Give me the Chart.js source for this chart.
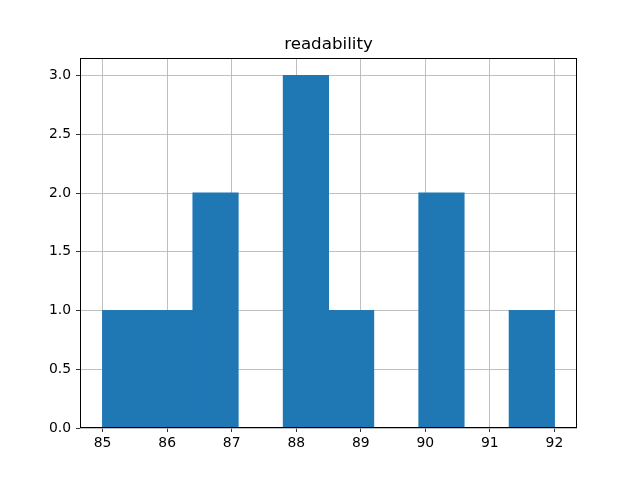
<!DOCTYPE html>
<html>
<head>
<meta charset="utf-8">
<script src="https://cdn.jsdelivr.net/npm/chart.js@4/dist/chart.umd.min.js"></script>
<style>
  html, body { margin: 0; padding: 0; background: #fff; }
  #wrap { width: 640px; height: 480px; }
</style>
</head>
<body>
<div id="wrap"><canvas id="hist" width="640" height="480"></canvas></div>
<script>
// histogram bins (10 bins from 85 to 92)
const binCenters = [85.35, 86.05, 86.75, 87.45, 88.15, 88.85, 89.55, 90.25, 90.95, 91.65];
const binCounts  = [1, 1, 2, 0, 3, 1, 0, 2, 0, 1];
const xTicks = [85, 86, 87, 88, 89, 90, 91, 92];
const yTicks = [0, 0.5, 1.0, 1.5, 2.0, 2.5, 3.0];
const title = "readability";

const FONT = "'DejaVu Sans', sans-serif";

/* 枠線とタイトル */
const framePlugin = {
  id: "frame",
  afterDraw(chart) {
    const { ctx, chartArea: a } = chart;
    ctx.save();
    ctx.strokeStyle = "#000";
    ctx.lineWidth = 1;
    ctx.strokeRect(a.left + 0.5, a.top + 0.5, a.right - a.left - 1, a.bottom - a.top - 1);
    ctx.fillStyle = "#000";
    ctx.font = "16.7px " + FONT;
    ctx.textAlign = "center";
    ctx.textBaseline = "alphabetic";
    ctx.fillText(title, (a.left + a.right) / 2, a.top - 9);
    ctx.restore();
  }
};

new Chart(document.getElementById("hist"), {
  type: "bar",
  data: {
    datasets: [{
      data: binCenters.map((c, i) => ({ x: c, y: binCounts[i] })),
      backgroundColor: "#1f77b4",
      borderWidth: 0,
      inflateAmount: 0.5,
      barPercentage: 1.0,
      categoryPercentage: 1.0
    }]
  },
  options: {
    responsive: false,
    animation: false,
    layout: { padding: { left: 0, right: 63, top: 58, bottom: 0 } },
    plugins: { legend: { display: false }, title: { display: false }, tooltip: { enabled: false } },
    scales: {
      x: {
        type: "linear",
        min: 84.65,
        max: 92.35,
        offset: false,
        z: 1,
        afterBuildTicks: s => { s.ticks = xTicks.map(v => ({ value: v })); },
        afterFit: s => { s.height = 52; },
        grid: { offset: false, color: "#b0b0b0", lineWidth: 0.8, tickColor: "#000", tickLength: 4, drawTicks: true },
        border: { display: false },
        ticks: { color: "#000", font: { family: FONT, size: 13.9 }, padding: 3, maxRotation: 0 }
      },
      y: {
        min: 0,
        max: 3.15,
        z: 1,
        afterBuildTicks: s => { s.ticks = yTicks.map(v => ({ value: v })); },
        afterFit: s => { s.width = 80; },
        grid: { color: "#b0b0b0", lineWidth: 0.8, tickColor: "#000", tickLength: 4, drawTicks: true },
        border: { display: false },
        ticks: { color: "#000", font: { family: FONT, size: 13.9 }, padding: 5,
                 callback: v => v.toFixed(1) }
      }
    }
  },
  plugins: [framePlugin]
});
</script>
</body>
</html>
